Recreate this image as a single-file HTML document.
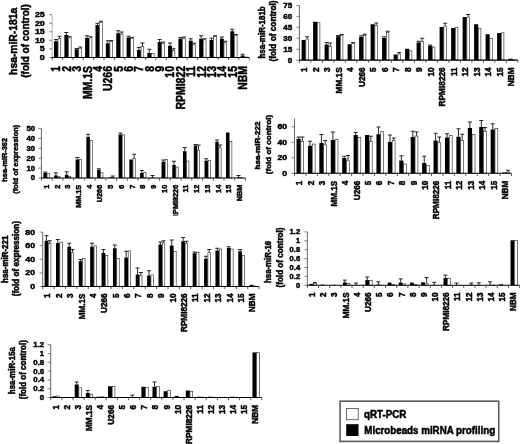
<!DOCTYPE html>
<html><head><meta charset="utf-8"><title>Figure</title>
<style>
html,body{margin:0;padding:0;background:#fff;}
body{width:520px;height:444px;overflow:hidden;}
svg{display:block;filter:blur(0.4px);}
svg text{stroke:#000;stroke-width:0.5px;stroke-linejoin:round;}
</style></head><body>
<svg width="520" height="444" viewBox="0 0 520 444" font-family="'Liberation Sans', Arial, sans-serif" font-weight="bold" fill="#000">
<rect x="0" y="0" width="520" height="444" fill="#fff"/>
<g id="c1">
<line x1="52.2" y1="14.6" x2="52.2" y2="57.45" stroke="#aaa" stroke-width="0.9"/>
<line x1="49.2" y1="57.45" x2="52.2" y2="57.45" stroke="#666" stroke-width="0.8"/>
<text transform="translate(44.7 59.88) scale(1.1 1)" font-size="8" text-anchor="end">0</text>
<line x1="49.2" y1="48.88" x2="52.2" y2="48.88" stroke="#666" stroke-width="0.8"/>
<text transform="translate(44.7 51.31) scale(1.1 1)" font-size="8" text-anchor="end">5</text>
<line x1="49.2" y1="40.31" x2="52.2" y2="40.31" stroke="#666" stroke-width="0.8"/>
<text transform="translate(44.7 42.74) scale(1.1 1)" font-size="8" text-anchor="end">10</text>
<line x1="49.2" y1="31.74" x2="52.2" y2="31.74" stroke="#666" stroke-width="0.8"/>
<text transform="translate(44.7 34.17) scale(1.1 1)" font-size="8" text-anchor="end">15</text>
<line x1="49.2" y1="23.17" x2="52.2" y2="23.17" stroke="#666" stroke-width="0.8"/>
<text transform="translate(44.7 25.6) scale(1.1 1)" font-size="8" text-anchor="end">20</text>
<line x1="49.2" y1="14.6" x2="52.2" y2="14.6" stroke="#666" stroke-width="0.8"/>
<text transform="translate(44.7 17.03) scale(1.1 1)" font-size="8" text-anchor="end">25</text>
<path d="M55.95 41.25 V39.5 M53.95 39.5 H57.95" stroke="#111" stroke-width="0.9" fill="none"/>
<path d="M59.5 38 V36.25 M57.5 36.25 H61.5" stroke="#111" stroke-width="0.9" fill="none"/>
<rect x="54" y="41.25" width="3.9" height="16.2" fill="#000"/>
<rect x="58.05" y="38.3" width="2.75" height="19.15" fill="#fff" stroke="#222" stroke-width="0.6"/>
<path d="M66.32 35 V32.5 M64.32 32.5 H68.32" stroke="#111" stroke-width="0.9" fill="none"/>
<path d="M69.87 37.5 V36.75 M67.87 36.75 H71.87" stroke="#111" stroke-width="0.9" fill="none"/>
<rect x="64.37" y="35" width="3.9" height="22.45" fill="#000"/>
<rect x="68.42" y="37.8" width="2.75" height="19.65" fill="#fff" stroke="#222" stroke-width="0.6"/>
<path d="M76.69 49.25 V48.5 M74.69 48.5 H78.69" stroke="#111" stroke-width="0.9" fill="none"/>
<path d="M80.24 48 V47 M78.24 47 H82.24" stroke="#111" stroke-width="0.9" fill="none"/>
<rect x="74.74" y="49.25" width="3.9" height="8.2" fill="#000"/>
<rect x="78.79" y="48.3" width="2.75" height="9.15" fill="#fff" stroke="#222" stroke-width="0.6"/>
<path d="M87.06 38 V35.75 M85.06 35.75 H89.06" stroke="#111" stroke-width="0.9" fill="none"/>
<path d="M90.61 37.5 V36.75 M88.61 36.75 H92.61" stroke="#111" stroke-width="0.9" fill="none"/>
<rect x="85.11" y="38" width="3.9" height="19.45" fill="#000"/>
<rect x="89.16" y="37.8" width="2.75" height="19.65" fill="#fff" stroke="#222" stroke-width="0.6"/>
<path d="M97.43 25 V23.25 M95.43 23.25 H99.43" stroke="#111" stroke-width="0.9" fill="none"/>
<path d="M100.98 22 V21.25 M98.98 21.25 H102.98" stroke="#111" stroke-width="0.9" fill="none"/>
<rect x="95.48" y="25" width="3.9" height="32.45" fill="#000"/>
<rect x="99.53" y="22.3" width="2.75" height="35.15" fill="#fff" stroke="#222" stroke-width="0.6"/>
<path d="M107.8 43.25 V40.75 M105.8 40.75 H109.8" stroke="#111" stroke-width="0.9" fill="none"/>
<path d="M111.35 41.25 V40.5 M109.35 40.5 H113.35" stroke="#111" stroke-width="0.9" fill="none"/>
<rect x="105.85" y="43.25" width="3.9" height="14.2" fill="#000"/>
<rect x="109.9" y="41.55" width="2.75" height="15.9" fill="#fff" stroke="#222" stroke-width="0.6"/>
<path d="M118.17 33.25 V30.75 M116.17 30.75 H120.17" stroke="#111" stroke-width="0.9" fill="none"/>
<path d="M121.72 33.75 V32 M119.72 32 H123.72" stroke="#111" stroke-width="0.9" fill="none"/>
<rect x="116.22" y="33.25" width="3.9" height="24.2" fill="#000"/>
<rect x="120.27" y="34.05" width="2.75" height="23.4" fill="#fff" stroke="#222" stroke-width="0.6"/>
<path d="M128.54 37.5 V36.2 M126.54 36.2 H130.54" stroke="#111" stroke-width="0.9" fill="none"/>
<path d="M132.09 38 V37.4 M130.09 37.4 H134.09" stroke="#111" stroke-width="0.9" fill="none"/>
<rect x="126.59" y="37.5" width="3.9" height="19.95" fill="#000"/>
<rect x="130.64" y="38.3" width="2.75" height="19.15" fill="#fff" stroke="#222" stroke-width="0.6"/>
<path d="M138.91 50 V47.5 M136.91 47.5 H140.91" stroke="#111" stroke-width="0.9" fill="none"/>
<path d="M142.46 46.25 V43 M140.46 43 H144.46" stroke="#111" stroke-width="0.9" fill="none"/>
<rect x="136.96" y="50" width="3.9" height="7.45" fill="#000"/>
<rect x="141.01" y="46.55" width="2.75" height="10.9" fill="#fff" stroke="#222" stroke-width="0.6"/>
<path d="M149.28 53 V49.25 M147.28 49.25 H151.28" stroke="#111" stroke-width="0.9" fill="none"/>
<rect x="147.33" y="53" width="3.9" height="4.45" fill="#000"/>
<rect x="151.38" y="53.3" width="2.75" height="4.15" fill="#fff" stroke="#222" stroke-width="0.6"/>
<path d="M159.65 42 V39.5 M157.65 39.5 H161.65" stroke="#111" stroke-width="0.9" fill="none"/>
<path d="M163.2 43.25 V42 M161.2 42 H165.2" stroke="#111" stroke-width="0.9" fill="none"/>
<rect x="157.7" y="42" width="3.9" height="15.45" fill="#000"/>
<rect x="161.75" y="43.55" width="2.75" height="13.9" fill="#fff" stroke="#222" stroke-width="0.6"/>
<path d="M170.02 45.75 V43 M168.02 43 H172.02" stroke="#111" stroke-width="0.9" fill="none"/>
<path d="M173.57 50 V48.75 M171.57 48.75 H175.57" stroke="#111" stroke-width="0.9" fill="none"/>
<rect x="168.07" y="45.75" width="3.9" height="11.7" fill="#000"/>
<rect x="172.12" y="50.3" width="2.75" height="7.15" fill="#fff" stroke="#222" stroke-width="0.6"/>
<path d="M180.39 38.75 V37.5 M178.39 37.5 H182.39" stroke="#111" stroke-width="0.9" fill="none"/>
<path d="M183.94 38 V37 M181.94 37 H185.94" stroke="#111" stroke-width="0.9" fill="none"/>
<rect x="178.44" y="38.75" width="3.9" height="18.7" fill="#000"/>
<rect x="182.49" y="38.3" width="2.75" height="19.15" fill="#fff" stroke="#222" stroke-width="0.6"/>
<path d="M190.76 40.75 V38.75 M188.76 38.75 H192.76" stroke="#111" stroke-width="0.9" fill="none"/>
<path d="M194.31 44.5 V43.25 M192.31 43.25 H196.31" stroke="#111" stroke-width="0.9" fill="none"/>
<rect x="188.81" y="40.75" width="3.9" height="16.7" fill="#000"/>
<rect x="192.86" y="44.8" width="2.75" height="12.65" fill="#fff" stroke="#222" stroke-width="0.6"/>
<path d="M201.13 38.75 V35.75 M199.13 35.75 H203.13" stroke="#111" stroke-width="0.9" fill="none"/>
<path d="M204.68 39.5 V38.75 M202.68 38.75 H206.68" stroke="#111" stroke-width="0.9" fill="none"/>
<rect x="199.18" y="38.75" width="3.9" height="18.7" fill="#000"/>
<rect x="203.23" y="39.8" width="2.75" height="17.65" fill="#fff" stroke="#222" stroke-width="0.6"/>
<path d="M211.5 40 V38.25 M209.5 38.25 H213.5" stroke="#111" stroke-width="0.9" fill="none"/>
<path d="M215.05 36.25 V35.75 M213.05 35.75 H217.05" stroke="#111" stroke-width="0.9" fill="none"/>
<rect x="209.55" y="40" width="3.9" height="17.45" fill="#000"/>
<rect x="213.6" y="36.55" width="2.75" height="20.9" fill="#fff" stroke="#222" stroke-width="0.6"/>
<path d="M221.87 38.75 V37 M219.87 37 H223.87" stroke="#111" stroke-width="0.9" fill="none"/>
<path d="M225.42 42.5 V41.25 M223.42 41.25 H227.42" stroke="#111" stroke-width="0.9" fill="none"/>
<rect x="219.92" y="38.75" width="3.9" height="18.7" fill="#000"/>
<rect x="223.97" y="42.8" width="2.75" height="14.65" fill="#fff" stroke="#222" stroke-width="0.6"/>
<path d="M232.24 31.25 V29.25 M230.24 29.25 H234.24" stroke="#111" stroke-width="0.9" fill="none"/>
<path d="M235.79 35 V34.5 M233.79 34.5 H237.79" stroke="#111" stroke-width="0.9" fill="none"/>
<rect x="230.29" y="31.25" width="3.9" height="26.2" fill="#000"/>
<rect x="234.34" y="35.3" width="2.75" height="22.15" fill="#fff" stroke="#222" stroke-width="0.6"/>
<path d="M242.61 55.5 V54.25 M240.61 54.25 H244.61" stroke="#111" stroke-width="0.9" fill="none"/>
<rect x="240.66" y="55.5" width="3.9" height="1.95" fill="#000"/>
<rect x="244.71" y="57.05" width="2.75" height="0.4" fill="#fff" stroke="#222" stroke-width="0.6"/>
<line x1="51.8" y1="57.45" x2="249.23" y2="57.45" stroke="#000" stroke-width="1.1"/>
<line x1="52.2" y1="57.45" x2="52.2" y2="60.15" stroke="#333" stroke-width="0.8"/>
<line x1="62.57" y1="57.45" x2="62.57" y2="60.15" stroke="#333" stroke-width="0.8"/>
<line x1="72.94" y1="57.45" x2="72.94" y2="60.15" stroke="#333" stroke-width="0.8"/>
<line x1="83.31" y1="57.45" x2="83.31" y2="60.15" stroke="#333" stroke-width="0.8"/>
<line x1="93.68" y1="57.45" x2="93.68" y2="60.15" stroke="#333" stroke-width="0.8"/>
<line x1="104.05" y1="57.45" x2="104.05" y2="60.15" stroke="#333" stroke-width="0.8"/>
<line x1="114.42" y1="57.45" x2="114.42" y2="60.15" stroke="#333" stroke-width="0.8"/>
<line x1="124.79" y1="57.45" x2="124.79" y2="60.15" stroke="#333" stroke-width="0.8"/>
<line x1="135.16" y1="57.45" x2="135.16" y2="60.15" stroke="#333" stroke-width="0.8"/>
<line x1="145.53" y1="57.45" x2="145.53" y2="60.15" stroke="#333" stroke-width="0.8"/>
<line x1="155.9" y1="57.45" x2="155.9" y2="60.15" stroke="#333" stroke-width="0.8"/>
<line x1="166.27" y1="57.45" x2="166.27" y2="60.15" stroke="#333" stroke-width="0.8"/>
<line x1="176.64" y1="57.45" x2="176.64" y2="60.15" stroke="#333" stroke-width="0.8"/>
<line x1="187.01" y1="57.45" x2="187.01" y2="60.15" stroke="#333" stroke-width="0.8"/>
<line x1="197.38" y1="57.45" x2="197.38" y2="60.15" stroke="#333" stroke-width="0.8"/>
<line x1="207.75" y1="57.45" x2="207.75" y2="60.15" stroke="#333" stroke-width="0.8"/>
<line x1="218.12" y1="57.45" x2="218.12" y2="60.15" stroke="#333" stroke-width="0.8"/>
<line x1="228.49" y1="57.45" x2="228.49" y2="60.15" stroke="#333" stroke-width="0.8"/>
<line x1="238.86" y1="57.45" x2="238.86" y2="60.15" stroke="#333" stroke-width="0.8"/>
<line x1="249.23" y1="57.45" x2="249.23" y2="60.15" stroke="#333" stroke-width="0.8"/>
<text transform="translate(60.42 66) rotate(-90) scale(0.83 1)" font-size="12.6" text-anchor="end">1</text>
<text transform="translate(70.79 66) rotate(-90) scale(0.83 1)" font-size="12.6" text-anchor="end">2</text>
<text transform="translate(81.16 66) rotate(-90) scale(0.83 1)" font-size="12.6" text-anchor="end">3</text>
<text transform="translate(91.53 66) rotate(-90) scale(0.83 1)" font-size="12.6" text-anchor="end">MM.1S</text>
<text transform="translate(101.9 66) rotate(-90) scale(0.83 1)" font-size="12.6" text-anchor="end">4</text>
<text transform="translate(112.27 66) rotate(-90) scale(0.83 1)" font-size="12.6" text-anchor="end">U266</text>
<text transform="translate(122.64 66) rotate(-90) scale(0.83 1)" font-size="12.6" text-anchor="end">5</text>
<text transform="translate(133.01 66) rotate(-90) scale(0.83 1)" font-size="12.6" text-anchor="end">6</text>
<text transform="translate(143.38 66) rotate(-90) scale(0.83 1)" font-size="12.6" text-anchor="end">7</text>
<text transform="translate(153.75 66) rotate(-90) scale(0.83 1)" font-size="12.6" text-anchor="end">8</text>
<text transform="translate(164.12 66) rotate(-90) scale(0.83 1)" font-size="12.6" text-anchor="end">9</text>
<text transform="translate(174.49 66) rotate(-90) scale(0.83 1)" font-size="12.6" text-anchor="end">10</text>
<text transform="translate(184.86 66) rotate(-90) scale(0.83 1)" font-size="12.6" text-anchor="end">RPMI822</text>
<text transform="translate(195.23 66) rotate(-90) scale(0.83 1)" font-size="12.6" text-anchor="end">11</text>
<text transform="translate(205.6 66) rotate(-90) scale(0.83 1)" font-size="12.6" text-anchor="end">12</text>
<text transform="translate(215.97 66) rotate(-90) scale(0.83 1)" font-size="12.6" text-anchor="end">13</text>
<text transform="translate(226.34 66) rotate(-90) scale(0.83 1)" font-size="12.6" text-anchor="end">14</text>
<text transform="translate(236.71 66) rotate(-90) scale(0.83 1)" font-size="12.6" text-anchor="end">15</text>
<text transform="translate(247.08 66) rotate(-90) scale(0.83 1)" font-size="12.6" text-anchor="end">NBM</text>
<text transform="translate(16.9 41.35) rotate(-90)" font-size="11.5" text-anchor="middle" textLength="67.1" lengthAdjust="spacingAndGlyphs">hsa-miR-181a</text>
<text transform="translate(28.6 40.95) rotate(-90)" font-size="11.5" text-anchor="middle" textLength="73.5" lengthAdjust="spacingAndGlyphs">(fold of control)</text>
</g>
<g id="c2">
<line x1="299.4" y1="5.4" x2="299.4" y2="60.15" stroke="#555" stroke-width="0.9"/>
<line x1="296.4" y1="60.15" x2="299.4" y2="60.15" stroke="#666" stroke-width="0.8"/>
<text transform="translate(292.2 62.58) scale(1 1)" font-size="8" text-anchor="end">0</text>
<line x1="296.4" y1="49.21" x2="299.4" y2="49.21" stroke="#666" stroke-width="0.8"/>
<text transform="translate(292.2 51.64) scale(1 1)" font-size="8" text-anchor="end">15</text>
<line x1="296.4" y1="38.27" x2="299.4" y2="38.27" stroke="#666" stroke-width="0.8"/>
<text transform="translate(292.2 40.7) scale(1 1)" font-size="8" text-anchor="end">30</text>
<line x1="296.4" y1="27.33" x2="299.4" y2="27.33" stroke="#666" stroke-width="0.8"/>
<text transform="translate(292.2 29.76) scale(1 1)" font-size="8" text-anchor="end">45</text>
<line x1="296.4" y1="16.39" x2="299.4" y2="16.39" stroke="#666" stroke-width="0.8"/>
<text transform="translate(292.2 18.82) scale(1 1)" font-size="8" text-anchor="end">60</text>
<line x1="296.4" y1="5.45" x2="299.4" y2="5.45" stroke="#666" stroke-width="0.8"/>
<text transform="translate(292.2 7.88) scale(1 1)" font-size="8" text-anchor="end">75</text>
<path d="M307.2 38.75 V36.75 M305.2 36.75 H309.2" stroke="#111" stroke-width="0.9" fill="none"/>
<rect x="301.6" y="40" width="4.1" height="20.15" fill="#000"/>
<rect x="305.85" y="39.05" width="2.55" height="21.1" fill="#fff" stroke="#222" stroke-width="0.6"/>
<rect x="313.1" y="21.75" width="4.1" height="38.4" fill="#000"/>
<rect x="317.35" y="22.8" width="2.55" height="37.35" fill="#fff" stroke="#222" stroke-width="0.6"/>
<path d="M326.65 44.5 V42.5 M324.65 42.5 H328.65" stroke="#111" stroke-width="0.9" fill="none"/>
<path d="M330.2 46.25 V43 M328.2 43 H332.2" stroke="#111" stroke-width="0.9" fill="none"/>
<rect x="324.6" y="44.5" width="4.1" height="15.65" fill="#000"/>
<rect x="328.85" y="46.55" width="2.55" height="13.6" fill="#fff" stroke="#222" stroke-width="0.6"/>
<path d="M338.15 36.25 V35.5 M336.15 35.5 H340.15" stroke="#111" stroke-width="0.9" fill="none"/>
<path d="M341.7 35 V34.5 M339.7 34.5 H343.7" stroke="#111" stroke-width="0.9" fill="none"/>
<rect x="336.1" y="36.25" width="4.1" height="23.9" fill="#000"/>
<rect x="340.35" y="35.3" width="2.55" height="24.85" fill="#fff" stroke="#222" stroke-width="0.6"/>
<path d="M353.2 43.25 V42.5 M351.2 42.5 H355.2" stroke="#111" stroke-width="0.9" fill="none"/>
<rect x="347.6" y="44.25" width="4.1" height="15.9" fill="#000"/>
<rect x="351.85" y="43.55" width="2.55" height="16.6" fill="#fff" stroke="#222" stroke-width="0.6"/>
<path d="M361.15 37 V35.75 M359.15 35.75 H363.15" stroke="#111" stroke-width="0.9" fill="none"/>
<path d="M364.7 35 V34.25 M362.7 34.25 H366.7" stroke="#111" stroke-width="0.9" fill="none"/>
<rect x="359.1" y="37" width="4.1" height="23.15" fill="#000"/>
<rect x="363.35" y="35.3" width="2.55" height="24.85" fill="#fff" stroke="#222" stroke-width="0.6"/>
<path d="M376.2 25 V23 M374.2 23 H378.2" stroke="#111" stroke-width="0.9" fill="none"/>
<rect x="370.6" y="24.25" width="4.1" height="35.9" fill="#000"/>
<rect x="374.85" y="25.3" width="2.55" height="34.85" fill="#fff" stroke="#222" stroke-width="0.6"/>
<path d="M384.15 38 V36.75 M382.15 36.75 H386.15" stroke="#111" stroke-width="0.9" fill="none"/>
<path d="M387.7 32 V31.25 M385.7 31.25 H389.7" stroke="#111" stroke-width="0.9" fill="none"/>
<rect x="382.1" y="38" width="4.1" height="22.15" fill="#000"/>
<rect x="386.35" y="32.3" width="2.55" height="27.85" fill="#fff" stroke="#222" stroke-width="0.6"/>
<path d="M399.2 53.75 V52.5 M397.2 52.5 H401.2" stroke="#111" stroke-width="0.9" fill="none"/>
<rect x="393.6" y="54.5" width="4.1" height="5.65" fill="#000"/>
<rect x="397.85" y="54.05" width="2.55" height="6.1" fill="#fff" stroke="#222" stroke-width="0.6"/>
<rect x="405.1" y="48.75" width="4.1" height="11.4" fill="#000"/>
<rect x="409.35" y="50.8" width="2.55" height="9.35" fill="#fff" stroke="#222" stroke-width="0.6"/>
<path d="M418.65 42.5 V41.25 M416.65 41.25 H420.65" stroke="#111" stroke-width="0.9" fill="none"/>
<path d="M422.2 41.25 V38.25 M420.2 38.25 H424.2" stroke="#111" stroke-width="0.9" fill="none"/>
<rect x="416.6" y="42.5" width="4.1" height="17.65" fill="#000"/>
<rect x="420.85" y="41.55" width="2.55" height="18.6" fill="#fff" stroke="#222" stroke-width="0.6"/>
<path d="M430.15 45.75 V45 M428.15 45 H432.15" stroke="#111" stroke-width="0.9" fill="none"/>
<rect x="428.1" y="45.75" width="4.1" height="14.4" fill="#000"/>
<rect x="432.35" y="47.05" width="2.55" height="13.1" fill="#fff" stroke="#222" stroke-width="0.6"/>
<path d="M445.2 25.75 V23.25 M443.2 23.25 H447.2" stroke="#111" stroke-width="0.9" fill="none"/>
<rect x="439.6" y="27" width="4.1" height="33.15" fill="#000"/>
<rect x="443.85" y="26.05" width="2.55" height="34.1" fill="#fff" stroke="#222" stroke-width="0.6"/>
<rect x="451.1" y="28" width="4.1" height="32.15" fill="#000"/>
<rect x="455.35" y="27.3" width="2.55" height="32.85" fill="#fff" stroke="#222" stroke-width="0.6"/>
<path d="M468.2 16.75 V14.5 M466.2 14.5 H470.2" stroke="#111" stroke-width="0.9" fill="none"/>
<rect x="462.6" y="17" width="4.1" height="43.15" fill="#000"/>
<rect x="466.85" y="17.05" width="2.55" height="43.1" fill="#fff" stroke="#222" stroke-width="0.6"/>
<rect x="474.1" y="24.25" width="4.1" height="35.9" fill="#000"/>
<rect x="478.35" y="28.55" width="2.55" height="31.6" fill="#fff" stroke="#222" stroke-width="0.6"/>
<rect x="485.6" y="34.25" width="4.1" height="25.9" fill="#000"/>
<rect x="489.85" y="38.55" width="2.55" height="21.6" fill="#fff" stroke="#222" stroke-width="0.6"/>
<rect x="497.1" y="33" width="4.1" height="27.15" fill="#000"/>
<rect x="501.35" y="32.8" width="2.55" height="27.35" fill="#fff" stroke="#222" stroke-width="0.6"/>
<rect x="508.6" y="58.7" width="4.1" height="1.45" fill="#000"/>
<rect x="512.85" y="60" width="2.55" height="0.15" fill="#fff" stroke="#222" stroke-width="0.6"/>
<line x1="299" y1="60.15" x2="517.9" y2="60.15" stroke="#000" stroke-width="1.1"/>
<line x1="299.4" y1="60.15" x2="299.4" y2="62.85" stroke="#333" stroke-width="0.8"/>
<line x1="310.9" y1="60.15" x2="310.9" y2="62.85" stroke="#333" stroke-width="0.8"/>
<line x1="322.4" y1="60.15" x2="322.4" y2="62.85" stroke="#333" stroke-width="0.8"/>
<line x1="333.9" y1="60.15" x2="333.9" y2="62.85" stroke="#333" stroke-width="0.8"/>
<line x1="345.4" y1="60.15" x2="345.4" y2="62.85" stroke="#333" stroke-width="0.8"/>
<line x1="356.9" y1="60.15" x2="356.9" y2="62.85" stroke="#333" stroke-width="0.8"/>
<line x1="368.4" y1="60.15" x2="368.4" y2="62.85" stroke="#333" stroke-width="0.8"/>
<line x1="379.9" y1="60.15" x2="379.9" y2="62.85" stroke="#333" stroke-width="0.8"/>
<line x1="391.4" y1="60.15" x2="391.4" y2="62.85" stroke="#333" stroke-width="0.8"/>
<line x1="402.9" y1="60.15" x2="402.9" y2="62.85" stroke="#333" stroke-width="0.8"/>
<line x1="414.4" y1="60.15" x2="414.4" y2="62.85" stroke="#333" stroke-width="0.8"/>
<line x1="425.9" y1="60.15" x2="425.9" y2="62.85" stroke="#333" stroke-width="0.8"/>
<line x1="437.4" y1="60.15" x2="437.4" y2="62.85" stroke="#333" stroke-width="0.8"/>
<line x1="448.9" y1="60.15" x2="448.9" y2="62.85" stroke="#333" stroke-width="0.8"/>
<line x1="460.4" y1="60.15" x2="460.4" y2="62.85" stroke="#333" stroke-width="0.8"/>
<line x1="471.9" y1="60.15" x2="471.9" y2="62.85" stroke="#333" stroke-width="0.8"/>
<line x1="483.4" y1="60.15" x2="483.4" y2="62.85" stroke="#333" stroke-width="0.8"/>
<line x1="494.9" y1="60.15" x2="494.9" y2="62.85" stroke="#333" stroke-width="0.8"/>
<line x1="506.4" y1="60.15" x2="506.4" y2="62.85" stroke="#333" stroke-width="0.8"/>
<line x1="517.9" y1="60.15" x2="517.9" y2="62.85" stroke="#333" stroke-width="0.8"/>
<text transform="translate(307.4 67.3) rotate(-90) scale(0.89 1)" font-size="9.3" text-anchor="end">1</text>
<text transform="translate(318.9 67.3) rotate(-90) scale(0.89 1)" font-size="9.3" text-anchor="end">2</text>
<text transform="translate(330.4 67.3) rotate(-90) scale(0.89 1)" font-size="9.3" text-anchor="end">3</text>
<text transform="translate(341.9 67.3) rotate(-90) scale(0.89 1)" font-size="9.3" text-anchor="end">MM.1S</text>
<text transform="translate(353.4 67.3) rotate(-90) scale(0.89 1)" font-size="9.3" text-anchor="end">4</text>
<text transform="translate(364.9 67.3) rotate(-90) scale(0.89 1)" font-size="9.3" text-anchor="end">U266</text>
<text transform="translate(376.4 67.3) rotate(-90) scale(0.89 1)" font-size="9.3" text-anchor="end">5</text>
<text transform="translate(387.9 67.3) rotate(-90) scale(0.89 1)" font-size="9.3" text-anchor="end">6</text>
<text transform="translate(399.4 67.3) rotate(-90) scale(0.89 1)" font-size="9.3" text-anchor="end">7</text>
<text transform="translate(410.9 67.3) rotate(-90) scale(0.89 1)" font-size="9.3" text-anchor="end">8</text>
<text transform="translate(422.4 67.3) rotate(-90) scale(0.89 1)" font-size="9.3" text-anchor="end">9</text>
<text transform="translate(433.9 67.3) rotate(-90) scale(0.89 1)" font-size="9.3" text-anchor="end">10</text>
<text transform="translate(445.4 67.3) rotate(-90) scale(0.89 1)" font-size="9.3" text-anchor="end">RPMI8226</text>
<text transform="translate(456.9 67.3) rotate(-90) scale(0.89 1)" font-size="9.3" text-anchor="end">11</text>
<text transform="translate(468.4 67.3) rotate(-90) scale(0.89 1)" font-size="9.3" text-anchor="end">12</text>
<text transform="translate(479.9 67.3) rotate(-90) scale(0.89 1)" font-size="9.3" text-anchor="end">13</text>
<text transform="translate(491.4 67.3) rotate(-90) scale(0.89 1)" font-size="9.3" text-anchor="end">14</text>
<text transform="translate(502.9 67.3) rotate(-90) scale(0.89 1)" font-size="9.3" text-anchor="end">15</text>
<text transform="translate(514.4 67.3) rotate(-90) scale(0.89 1)" font-size="9.3" text-anchor="end">NBM</text>
<text transform="translate(264.8 32.4) rotate(-90)" font-size="8.8" text-anchor="middle" textLength="52.2" lengthAdjust="spacingAndGlyphs">hsa-miR-181b</text>
<text transform="translate(276 31) rotate(-90)" font-size="8.8" text-anchor="middle" textLength="61" lengthAdjust="spacingAndGlyphs">(fold of control)</text>
</g>
<g id="c3">
<line x1="41.4" y1="128.6" x2="41.4" y2="178" stroke="#555" stroke-width="0.9"/>
<line x1="38.4" y1="178" x2="41.4" y2="178" stroke="#666" stroke-width="0.8"/>
<text transform="translate(35.1 180.43) scale(0.97 1)" font-size="8" text-anchor="end">0</text>
<line x1="38.4" y1="168.12" x2="41.4" y2="168.12" stroke="#666" stroke-width="0.8"/>
<text transform="translate(35.1 170.55) scale(0.97 1)" font-size="8" text-anchor="end">10</text>
<line x1="38.4" y1="158.24" x2="41.4" y2="158.24" stroke="#666" stroke-width="0.8"/>
<text transform="translate(35.1 160.67) scale(0.97 1)" font-size="8" text-anchor="end">20</text>
<line x1="38.4" y1="148.36" x2="41.4" y2="148.36" stroke="#666" stroke-width="0.8"/>
<text transform="translate(35.1 150.79) scale(0.97 1)" font-size="8" text-anchor="end">30</text>
<line x1="38.4" y1="138.48" x2="41.4" y2="138.48" stroke="#666" stroke-width="0.8"/>
<text transform="translate(35.1 140.91) scale(0.97 1)" font-size="8" text-anchor="end">40</text>
<line x1="38.4" y1="128.6" x2="41.4" y2="128.6" stroke="#666" stroke-width="0.8"/>
<text transform="translate(35.1 131.03) scale(0.97 1)" font-size="8" text-anchor="end">50</text>
<path d="M45.15 172.9 V172.1 M43.15 172.1 H47.15" stroke="#111" stroke-width="0.9" fill="none"/>
<rect x="43.4" y="172.9" width="3.5" height="5.1" fill="#000"/>
<rect x="47.05" y="173.5" width="2.25" height="4.5" fill="#fff" stroke="#222" stroke-width="0.6"/>
<path d="M55.89 175.4 V172.9 M53.89 172.9 H57.89" stroke="#111" stroke-width="0.9" fill="none"/>
<rect x="54.14" y="175.4" width="3.5" height="2.6" fill="#000"/>
<rect x="57.79" y="176.5" width="2.25" height="1.5" fill="#fff" stroke="#222" stroke-width="0.6"/>
<path d="M66.63 174.8 V171.8 M64.63 171.8 H68.63" stroke="#111" stroke-width="0.9" fill="none"/>
<rect x="64.88" y="174.8" width="3.5" height="3.2" fill="#000"/>
<rect x="68.53" y="176.5" width="2.25" height="1.5" fill="#fff" stroke="#222" stroke-width="0.6"/>
<path d="M77.37 159.5 V157.5 M75.37 157.5 H79.37" stroke="#111" stroke-width="0.9" fill="none"/>
<rect x="75.62" y="159.5" width="3.5" height="18.5" fill="#000"/>
<rect x="79.27" y="159.55" width="2.25" height="18.45" fill="#fff" stroke="#222" stroke-width="0.6"/>
<path d="M88.11 137 V134.25 M86.11 134.25 H90.11" stroke="#111" stroke-width="0.9" fill="none"/>
<rect x="86.36" y="137" width="3.5" height="41" fill="#000"/>
<rect x="90.01" y="140.3" width="2.25" height="37.7" fill="#fff" stroke="#222" stroke-width="0.6"/>
<path d="M98.85 169.8 V168.8 M96.85 168.8 H100.85" stroke="#111" stroke-width="0.9" fill="none"/>
<rect x="97.1" y="169.8" width="3.5" height="8.2" fill="#000"/>
<rect x="100.75" y="172.7" width="2.25" height="5.3" fill="#fff" stroke="#222" stroke-width="0.6"/>
<path d="M112.69 176.8 V176 M110.69 176 H114.69" stroke="#111" stroke-width="0.9" fill="none"/>
<rect x="107.84" y="177.5" width="3.5" height="0.5" fill="#000"/>
<rect x="111.49" y="177.1" width="2.25" height="0.9" fill="#fff" stroke="#222" stroke-width="0.6"/>
<path d="M120.33 134.5 V133 M118.33 133 H122.33" stroke="#111" stroke-width="0.9" fill="none"/>
<rect x="118.58" y="134.5" width="3.5" height="43.5" fill="#000"/>
<rect x="122.23" y="134.8" width="2.25" height="43.2" fill="#fff" stroke="#222" stroke-width="0.6"/>
<path d="M134.17 158 V154.25 M132.17 154.25 H136.17" stroke="#111" stroke-width="0.9" fill="none"/>
<rect x="129.32" y="159.5" width="3.5" height="18.5" fill="#000"/>
<rect x="132.97" y="158.3" width="2.25" height="19.7" fill="#fff" stroke="#222" stroke-width="0.6"/>
<path d="M141.81 173 V170.5 M139.81 170.5 H143.81" stroke="#111" stroke-width="0.9" fill="none"/>
<rect x="140.06" y="173" width="3.5" height="5" fill="#000"/>
<rect x="143.71" y="172.6" width="2.25" height="5.4" fill="#fff" stroke="#222" stroke-width="0.6"/>
<path d="M152.55 177.5 V175.5 M150.55 175.5 H154.55" stroke="#111" stroke-width="0.9" fill="none"/>
<rect x="150.8" y="177.5" width="3.5" height="0.5" fill="#000"/>
<rect x="154.45" y="178" width="2.25" height="0" fill="#fff" stroke="#222" stroke-width="0.6"/>
<path d="M163.29 161.75 V160 M161.29 160 H165.29" stroke="#111" stroke-width="0.9" fill="none"/>
<rect x="161.54" y="161.75" width="3.5" height="16.25" fill="#000"/>
<rect x="165.19" y="159.55" width="2.25" height="18.45" fill="#fff" stroke="#222" stroke-width="0.6"/>
<path d="M174.03 165 V161.25 M172.03 161.25 H176.03" stroke="#111" stroke-width="0.9" fill="none"/>
<rect x="172.28" y="165" width="3.5" height="13" fill="#000"/>
<rect x="175.93" y="167.05" width="2.25" height="10.95" fill="#fff" stroke="#222" stroke-width="0.6"/>
<path d="M184.77 151.25 V147.5 M182.77 147.5 H186.77" stroke="#111" stroke-width="0.9" fill="none"/>
<rect x="183.02" y="151.25" width="3.5" height="26.75" fill="#000"/>
<rect x="186.67" y="161.05" width="2.25" height="16.95" fill="#fff" stroke="#222" stroke-width="0.6"/>
<path d="M195.51 145.5 V144.5 M193.51 144.5 H197.51" stroke="#111" stroke-width="0.9" fill="none"/>
<path d="M198.61 150 V145 M196.61 145 H200.61" stroke="#111" stroke-width="0.9" fill="none"/>
<rect x="193.76" y="145.5" width="3.5" height="32.5" fill="#000"/>
<rect x="197.41" y="150.3" width="2.25" height="27.7" fill="#fff" stroke="#222" stroke-width="0.6"/>
<path d="M206.25 160.75 V158.75 M204.25 158.75 H208.25" stroke="#111" stroke-width="0.9" fill="none"/>
<rect x="204.5" y="160.75" width="3.5" height="17.25" fill="#000"/>
<rect x="208.15" y="160.3" width="2.25" height="17.7" fill="#fff" stroke="#222" stroke-width="0.6"/>
<path d="M216.99 142 V140 M214.99 140 H218.99" stroke="#111" stroke-width="0.9" fill="none"/>
<path d="M220.09 147.5 V145 M218.09 145 H222.09" stroke="#111" stroke-width="0.9" fill="none"/>
<rect x="215.24" y="142" width="3.5" height="36" fill="#000"/>
<rect x="218.89" y="147.8" width="2.25" height="30.2" fill="#fff" stroke="#222" stroke-width="0.6"/>
<rect x="225.98" y="132.5" width="3.5" height="45.5" fill="#000"/>
<rect x="229.63" y="141.55" width="2.25" height="36.45" fill="#fff" stroke="#222" stroke-width="0.6"/>
<path d="M238.47 177.2 V175.5 M236.47 175.5 H240.47" stroke="#111" stroke-width="0.9" fill="none"/>
<rect x="236.72" y="177.2" width="3.5" height="0.8" fill="#000"/>
<rect x="240.37" y="177.8" width="2.25" height="0.2" fill="#fff" stroke="#222" stroke-width="0.6"/>
<line x1="41" y1="178" x2="245.46" y2="178" stroke="#000" stroke-width="1.1"/>
<line x1="41.4" y1="178" x2="41.4" y2="180.7" stroke="#333" stroke-width="0.8"/>
<line x1="52.14" y1="178" x2="52.14" y2="180.7" stroke="#333" stroke-width="0.8"/>
<line x1="62.88" y1="178" x2="62.88" y2="180.7" stroke="#333" stroke-width="0.8"/>
<line x1="73.62" y1="178" x2="73.62" y2="180.7" stroke="#333" stroke-width="0.8"/>
<line x1="84.36" y1="178" x2="84.36" y2="180.7" stroke="#333" stroke-width="0.8"/>
<line x1="95.1" y1="178" x2="95.1" y2="180.7" stroke="#333" stroke-width="0.8"/>
<line x1="105.84" y1="178" x2="105.84" y2="180.7" stroke="#333" stroke-width="0.8"/>
<line x1="116.58" y1="178" x2="116.58" y2="180.7" stroke="#333" stroke-width="0.8"/>
<line x1="127.32" y1="178" x2="127.32" y2="180.7" stroke="#333" stroke-width="0.8"/>
<line x1="138.06" y1="178" x2="138.06" y2="180.7" stroke="#333" stroke-width="0.8"/>
<line x1="148.8" y1="178" x2="148.8" y2="180.7" stroke="#333" stroke-width="0.8"/>
<line x1="159.54" y1="178" x2="159.54" y2="180.7" stroke="#333" stroke-width="0.8"/>
<line x1="170.28" y1="178" x2="170.28" y2="180.7" stroke="#333" stroke-width="0.8"/>
<line x1="181.02" y1="178" x2="181.02" y2="180.7" stroke="#333" stroke-width="0.8"/>
<line x1="191.76" y1="178" x2="191.76" y2="180.7" stroke="#333" stroke-width="0.8"/>
<line x1="202.5" y1="178" x2="202.5" y2="180.7" stroke="#333" stroke-width="0.8"/>
<line x1="213.24" y1="178" x2="213.24" y2="180.7" stroke="#333" stroke-width="0.8"/>
<line x1="223.98" y1="178" x2="223.98" y2="180.7" stroke="#333" stroke-width="0.8"/>
<line x1="234.72" y1="178" x2="234.72" y2="180.7" stroke="#333" stroke-width="0.8"/>
<line x1="245.46" y1="178" x2="245.46" y2="180.7" stroke="#333" stroke-width="0.8"/>
<clipPath id="clip_c3"><rect x="0" y="178" width="520" height="37.6"/></clipPath>
<g clip-path="url(#clip_c3)">
<text transform="translate(48.76 184.8) rotate(-90) scale(0.94 1)" font-size="7.74" text-anchor="end">1</text>
<text transform="translate(59.5 184.8) rotate(-90) scale(0.94 1)" font-size="7.74" text-anchor="end">2</text>
<text transform="translate(70.24 184.8) rotate(-90) scale(0.94 1)" font-size="7.74" text-anchor="end">3</text>
<text transform="translate(80.98 184.8) rotate(-90) scale(0.94 1)" font-size="7.74" text-anchor="end">MM.1S</text>
<text transform="translate(91.72 184.8) rotate(-90) scale(0.94 1)" font-size="7.74" text-anchor="end">4</text>
<text transform="translate(102.46 184.8) rotate(-90) scale(0.94 1)" font-size="7.74" text-anchor="end">U266</text>
<text transform="translate(113.2 184.8) rotate(-90) scale(0.94 1)" font-size="7.74" text-anchor="end">5</text>
<text transform="translate(123.94 184.8) rotate(-90) scale(0.94 1)" font-size="7.74" text-anchor="end">6</text>
<text transform="translate(134.68 184.8) rotate(-90) scale(0.94 1)" font-size="7.74" text-anchor="end">7</text>
<text transform="translate(145.42 184.8) rotate(-90) scale(0.94 1)" font-size="7.74" text-anchor="end">8</text>
<text transform="translate(156.16 184.8) rotate(-90) scale(0.94 1)" font-size="7.74" text-anchor="end">9</text>
<text transform="translate(166.9 184.8) rotate(-90) scale(0.94 1)" font-size="7.74" text-anchor="end">10</text>
<text transform="translate(177.64 184.8) rotate(-90) scale(0.94 1)" font-size="7.74" text-anchor="end">RPMI8226</text>
<text transform="translate(188.38 184.8) rotate(-90) scale(0.94 1)" font-size="7.74" text-anchor="end">11</text>
<text transform="translate(199.12 184.8) rotate(-90) scale(0.94 1)" font-size="7.74" text-anchor="end">12</text>
<text transform="translate(209.86 184.8) rotate(-90) scale(0.94 1)" font-size="7.74" text-anchor="end">13</text>
<text transform="translate(220.6 184.8) rotate(-90) scale(0.94 1)" font-size="7.74" text-anchor="end">14</text>
<text transform="translate(231.34 184.8) rotate(-90) scale(0.94 1)" font-size="7.74" text-anchor="end">15</text>
<text transform="translate(242.08 184.8) rotate(-90) scale(0.94 1)" font-size="7.74" text-anchor="end">NBM</text>
</g>
<text transform="translate(7.4 159.85) rotate(-90)" font-size="7.8" text-anchor="middle" textLength="43.7" lengthAdjust="spacingAndGlyphs">hsa-miR-362</text>
<text transform="translate(18.1 159.25) rotate(-90)" font-size="7.8" text-anchor="middle" textLength="68.9" lengthAdjust="spacingAndGlyphs">(fold of expression)</text>
</g>
<g id="c4">
<line x1="294.5" y1="118.5" x2="294.5" y2="173.3" stroke="#555" stroke-width="0.9"/>
<line x1="291.5" y1="173.3" x2="294.5" y2="173.3" stroke="#666" stroke-width="0.8"/>
<text transform="translate(287 175.73) scale(1.08 1)" font-size="8" text-anchor="end">0</text>
<line x1="291.5" y1="157.8" x2="294.5" y2="157.8" stroke="#666" stroke-width="0.8"/>
<text transform="translate(287 160.23) scale(1.08 1)" font-size="8" text-anchor="end">20</text>
<line x1="291.5" y1="142.3" x2="294.5" y2="142.3" stroke="#666" stroke-width="0.8"/>
<text transform="translate(287 144.73) scale(1.08 1)" font-size="8" text-anchor="end">40</text>
<line x1="291.5" y1="126.8" x2="294.5" y2="126.8" stroke="#666" stroke-width="0.8"/>
<text transform="translate(287 129.23) scale(1.08 1)" font-size="8" text-anchor="end">60</text>
<path d="M298.6 138.75 V137 M296.6 137 H300.6" stroke="#111" stroke-width="0.9" fill="none"/>
<path d="M302.35 141.25 V137 M300.35 137 H304.35" stroke="#111" stroke-width="0.9" fill="none"/>
<rect x="296.5" y="138.75" width="4.2" height="34.55" fill="#000"/>
<rect x="300.85" y="141.55" width="2.85" height="31.75" fill="#fff" stroke="#222" stroke-width="0.6"/>
<path d="M310.02 145.75 V141.25 M308.02 141.25 H312.02" stroke="#111" stroke-width="0.9" fill="none"/>
<rect x="307.92" y="145.75" width="4.2" height="27.55" fill="#000"/>
<rect x="312.27" y="144.05" width="2.85" height="29.25" fill="#fff" stroke="#222" stroke-width="0.6"/>
<path d="M321.44 143 V134.5 M319.44 134.5 H323.44" stroke="#111" stroke-width="0.9" fill="none"/>
<path d="M325.19 144.5 V140.5 M323.19 140.5 H327.19" stroke="#111" stroke-width="0.9" fill="none"/>
<rect x="319.34" y="143" width="4.2" height="30.3" fill="#000"/>
<rect x="323.69" y="144.8" width="2.85" height="28.5" fill="#fff" stroke="#222" stroke-width="0.6"/>
<path d="M332.86 140 V132 M330.86 132 H334.86" stroke="#111" stroke-width="0.9" fill="none"/>
<rect x="330.76" y="140" width="4.2" height="33.3" fill="#000"/>
<rect x="335.11" y="139.55" width="2.85" height="33.75" fill="#fff" stroke="#222" stroke-width="0.6"/>
<path d="M344.28 158 V156.25 M342.28 156.25 H346.28" stroke="#111" stroke-width="0.9" fill="none"/>
<path d="M348.03 160.5 V155.5 M346.03 155.5 H350.03" stroke="#111" stroke-width="0.9" fill="none"/>
<rect x="342.18" y="158" width="4.2" height="15.3" fill="#000"/>
<rect x="346.53" y="160.8" width="2.85" height="12.5" fill="#fff" stroke="#222" stroke-width="0.6"/>
<path d="M355.7 135 V132.5 M353.7 132.5 H357.7" stroke="#111" stroke-width="0.9" fill="none"/>
<rect x="353.6" y="135" width="4.2" height="38.3" fill="#000"/>
<rect x="357.95" y="137.3" width="2.85" height="36" fill="#fff" stroke="#222" stroke-width="0.6"/>
<path d="M370.87 141.25 V136.25 M368.87 136.25 H372.87" stroke="#111" stroke-width="0.9" fill="none"/>
<rect x="365.02" y="135" width="4.2" height="38.3" fill="#000"/>
<rect x="369.37" y="141.55" width="2.85" height="31.75" fill="#fff" stroke="#222" stroke-width="0.6"/>
<path d="M378.54 134.25 V127 M376.54 127 H380.54" stroke="#111" stroke-width="0.9" fill="none"/>
<rect x="376.44" y="134.25" width="4.2" height="39.05" fill="#000"/>
<rect x="380.79" y="131.55" width="2.85" height="41.75" fill="#fff" stroke="#222" stroke-width="0.6"/>
<path d="M389.96 142 V135 M387.96 135 H391.96" stroke="#111" stroke-width="0.9" fill="none"/>
<path d="M393.71 140 V138 M391.71 138 H395.71" stroke="#111" stroke-width="0.9" fill="none"/>
<rect x="387.86" y="142" width="4.2" height="31.3" fill="#000"/>
<rect x="392.21" y="140.3" width="2.85" height="33" fill="#fff" stroke="#222" stroke-width="0.6"/>
<path d="M401.38 160.5 V155.75 M399.38 155.75 H403.38" stroke="#111" stroke-width="0.9" fill="none"/>
<rect x="399.28" y="160.5" width="4.2" height="12.8" fill="#000"/>
<rect x="403.63" y="164.05" width="2.85" height="9.25" fill="#fff" stroke="#222" stroke-width="0.6"/>
<path d="M412.8 137 V131.25 M410.8 131.25 H414.8" stroke="#111" stroke-width="0.9" fill="none"/>
<path d="M416.55 135.75 V132 M414.55 132 H418.55" stroke="#111" stroke-width="0.9" fill="none"/>
<rect x="410.7" y="137" width="4.2" height="36.3" fill="#000"/>
<rect x="415.05" y="136.05" width="2.85" height="37.25" fill="#fff" stroke="#222" stroke-width="0.6"/>
<path d="M424.22 163 V156.25 M422.22 156.25 H426.22" stroke="#111" stroke-width="0.9" fill="none"/>
<rect x="422.12" y="163" width="4.2" height="10.3" fill="#000"/>
<rect x="426.47" y="165.3" width="2.85" height="8" fill="#fff" stroke="#222" stroke-width="0.6"/>
<path d="M435.64 140.5 V133.25 M433.64 133.25 H437.64" stroke="#111" stroke-width="0.9" fill="none"/>
<path d="M439.39 142.5 V137 M437.39 137 H441.39" stroke="#111" stroke-width="0.9" fill="none"/>
<rect x="433.54" y="140.5" width="4.2" height="32.8" fill="#000"/>
<rect x="437.89" y="142.8" width="2.85" height="30.5" fill="#fff" stroke="#222" stroke-width="0.6"/>
<path d="M447.06 137.5 V133.75 M445.06 133.75 H449.06" stroke="#111" stroke-width="0.9" fill="none"/>
<rect x="444.96" y="137.5" width="4.2" height="35.8" fill="#000"/>
<rect x="449.31" y="135.3" width="2.85" height="38" fill="#fff" stroke="#222" stroke-width="0.6"/>
<path d="M458.48 136.75 V128.75 M456.48 128.75 H460.48" stroke="#111" stroke-width="0.9" fill="none"/>
<path d="M462.23 140 V134.25 M460.23 134.25 H464.23" stroke="#111" stroke-width="0.9" fill="none"/>
<rect x="456.38" y="136.75" width="4.2" height="36.55" fill="#000"/>
<rect x="460.73" y="140.3" width="2.85" height="33" fill="#fff" stroke="#222" stroke-width="0.6"/>
<path d="M469.9 128 V122 M467.9 122 H471.9" stroke="#111" stroke-width="0.9" fill="none"/>
<rect x="467.8" y="128" width="4.2" height="45.3" fill="#000"/>
<rect x="472.15" y="134.55" width="2.85" height="38.75" fill="#fff" stroke="#222" stroke-width="0.6"/>
<path d="M481.32 127 V120.5 M479.32 120.5 H483.32" stroke="#111" stroke-width="0.9" fill="none"/>
<path d="M485.07 131.25 V127.5 M483.07 127.5 H487.07" stroke="#111" stroke-width="0.9" fill="none"/>
<rect x="479.22" y="127" width="4.2" height="46.3" fill="#000"/>
<rect x="483.57" y="131.55" width="2.85" height="41.75" fill="#fff" stroke="#222" stroke-width="0.6"/>
<path d="M492.74 129.5 V123.75 M490.74 123.75 H494.74" stroke="#111" stroke-width="0.9" fill="none"/>
<rect x="490.64" y="129.5" width="4.2" height="43.8" fill="#000"/>
<rect x="494.99" y="128.3" width="2.85" height="45" fill="#fff" stroke="#222" stroke-width="0.6"/>
<path d="M507.91 171.75 V170.25 M505.91 170.25 H509.91" stroke="#111" stroke-width="0.9" fill="none"/>
<rect x="502.06" y="172.5" width="4.2" height="0.8" fill="#000"/>
<rect x="506.41" y="172.05" width="2.85" height="1.25" fill="#fff" stroke="#222" stroke-width="0.6"/>
<line x1="294.1" y1="173.3" x2="511.48" y2="173.3" stroke="#000" stroke-width="1.1"/>
<line x1="294.5" y1="173.3" x2="294.5" y2="176" stroke="#333" stroke-width="0.8"/>
<line x1="305.92" y1="173.3" x2="305.92" y2="176" stroke="#333" stroke-width="0.8"/>
<line x1="317.34" y1="173.3" x2="317.34" y2="176" stroke="#333" stroke-width="0.8"/>
<line x1="328.76" y1="173.3" x2="328.76" y2="176" stroke="#333" stroke-width="0.8"/>
<line x1="340.18" y1="173.3" x2="340.18" y2="176" stroke="#333" stroke-width="0.8"/>
<line x1="351.6" y1="173.3" x2="351.6" y2="176" stroke="#333" stroke-width="0.8"/>
<line x1="363.02" y1="173.3" x2="363.02" y2="176" stroke="#333" stroke-width="0.8"/>
<line x1="374.44" y1="173.3" x2="374.44" y2="176" stroke="#333" stroke-width="0.8"/>
<line x1="385.86" y1="173.3" x2="385.86" y2="176" stroke="#333" stroke-width="0.8"/>
<line x1="397.28" y1="173.3" x2="397.28" y2="176" stroke="#333" stroke-width="0.8"/>
<line x1="408.7" y1="173.3" x2="408.7" y2="176" stroke="#333" stroke-width="0.8"/>
<line x1="420.12" y1="173.3" x2="420.12" y2="176" stroke="#333" stroke-width="0.8"/>
<line x1="431.54" y1="173.3" x2="431.54" y2="176" stroke="#333" stroke-width="0.8"/>
<line x1="442.96" y1="173.3" x2="442.96" y2="176" stroke="#333" stroke-width="0.8"/>
<line x1="454.38" y1="173.3" x2="454.38" y2="176" stroke="#333" stroke-width="0.8"/>
<line x1="465.8" y1="173.3" x2="465.8" y2="176" stroke="#333" stroke-width="0.8"/>
<line x1="477.22" y1="173.3" x2="477.22" y2="176" stroke="#333" stroke-width="0.8"/>
<line x1="488.64" y1="173.3" x2="488.64" y2="176" stroke="#333" stroke-width="0.8"/>
<line x1="500.06" y1="173.3" x2="500.06" y2="176" stroke="#333" stroke-width="0.8"/>
<line x1="511.48" y1="173.3" x2="511.48" y2="176" stroke="#333" stroke-width="0.8"/>
<text transform="translate(302.45 180.7) rotate(-90) scale(0.83 1)" font-size="9.84" text-anchor="end">1</text>
<text transform="translate(313.87 180.7) rotate(-90) scale(0.83 1)" font-size="9.84" text-anchor="end">2</text>
<text transform="translate(325.29 180.7) rotate(-90) scale(0.83 1)" font-size="9.84" text-anchor="end">3</text>
<text transform="translate(336.71 180.7) rotate(-90) scale(0.83 1)" font-size="9.84" text-anchor="end">MM.1S</text>
<text transform="translate(348.13 180.7) rotate(-90) scale(0.83 1)" font-size="9.84" text-anchor="end">4</text>
<text transform="translate(359.55 180.7) rotate(-90) scale(0.83 1)" font-size="9.84" text-anchor="end">U266</text>
<text transform="translate(370.97 180.7) rotate(-90) scale(0.83 1)" font-size="9.84" text-anchor="end">5</text>
<text transform="translate(382.39 180.7) rotate(-90) scale(0.83 1)" font-size="9.84" text-anchor="end">6</text>
<text transform="translate(393.81 180.7) rotate(-90) scale(0.83 1)" font-size="9.84" text-anchor="end">7</text>
<text transform="translate(405.23 180.7) rotate(-90) scale(0.83 1)" font-size="9.84" text-anchor="end">8</text>
<text transform="translate(416.65 180.7) rotate(-90) scale(0.83 1)" font-size="9.84" text-anchor="end">9</text>
<text transform="translate(428.07 180.7) rotate(-90) scale(0.83 1)" font-size="9.84" text-anchor="end">10</text>
<text transform="translate(439.49 180.7) rotate(-90) scale(0.83 1)" font-size="9.84" text-anchor="end">RPMI8226</text>
<text transform="translate(450.91 180.7) rotate(-90) scale(0.83 1)" font-size="9.84" text-anchor="end">11</text>
<text transform="translate(462.33 180.7) rotate(-90) scale(0.83 1)" font-size="9.84" text-anchor="end">12</text>
<text transform="translate(473.75 180.7) rotate(-90) scale(0.83 1)" font-size="9.84" text-anchor="end">13</text>
<text transform="translate(485.17 180.7) rotate(-90) scale(0.83 1)" font-size="9.84" text-anchor="end">14</text>
<text transform="translate(496.59 180.7) rotate(-90) scale(0.83 1)" font-size="9.84" text-anchor="end">15</text>
<text transform="translate(508.01 180.7) rotate(-90) scale(0.83 1)" font-size="9.84" text-anchor="end">NBM</text>
<text transform="translate(260 145.5) rotate(-90)" font-size="8" text-anchor="middle" textLength="48" lengthAdjust="spacingAndGlyphs">hsa-miR-222</text>
<text transform="translate(271 144.5) rotate(-90)" font-size="8" text-anchor="middle" textLength="59.4" lengthAdjust="spacingAndGlyphs">(fold of control)</text>
</g>
<g id="c5">
<line x1="42.7" y1="232.1" x2="42.7" y2="286.5" stroke="#555" stroke-width="0.9"/>
<line x1="39.7" y1="286.5" x2="42.7" y2="286.5" stroke="#666" stroke-width="0.8"/>
<text transform="translate(35.1 288.93) scale(1.1 1)" font-size="8" text-anchor="end">0</text>
<line x1="39.7" y1="272.9" x2="42.7" y2="272.9" stroke="#666" stroke-width="0.8"/>
<text transform="translate(35.1 275.33) scale(1.1 1)" font-size="8" text-anchor="end">20</text>
<line x1="39.7" y1="259.3" x2="42.7" y2="259.3" stroke="#666" stroke-width="0.8"/>
<text transform="translate(35.1 261.73) scale(1.1 1)" font-size="8" text-anchor="end">40</text>
<line x1="39.7" y1="245.7" x2="42.7" y2="245.7" stroke="#666" stroke-width="0.8"/>
<text transform="translate(35.1 248.13) scale(1.1 1)" font-size="8" text-anchor="end">60</text>
<line x1="39.7" y1="232.1" x2="42.7" y2="232.1" stroke="#666" stroke-width="0.8"/>
<text transform="translate(35.1 234.53) scale(1.1 1)" font-size="8" text-anchor="end">80</text>
<path d="M46.45 240.75 V235.75 M44.45 235.75 H48.45" stroke="#111" stroke-width="0.9" fill="none"/>
<path d="M49.75 243.25 V240.75 M47.75 240.75 H51.75" stroke="#111" stroke-width="0.9" fill="none"/>
<rect x="44.6" y="240.75" width="3.7" height="45.75" fill="#000"/>
<rect x="48.45" y="243.55" width="2.45" height="42.95" fill="#fff" stroke="#222" stroke-width="0.6"/>
<path d="M57.84 243 V239.5 M55.84 239.5 H59.84" stroke="#111" stroke-width="0.9" fill="none"/>
<rect x="55.99" y="243" width="3.7" height="43.5" fill="#000"/>
<rect x="59.84" y="242.05" width="2.45" height="44.45" fill="#fff" stroke="#222" stroke-width="0.6"/>
<path d="M69.23 246.75 V243.25 M67.23 243.25 H71.23" stroke="#111" stroke-width="0.9" fill="none"/>
<path d="M72.53 252.5 V249.5 M70.53 249.5 H74.53" stroke="#111" stroke-width="0.9" fill="none"/>
<rect x="67.38" y="246.75" width="3.7" height="39.75" fill="#000"/>
<rect x="71.23" y="252.8" width="2.45" height="33.7" fill="#fff" stroke="#222" stroke-width="0.6"/>
<path d="M80.62 261.25 V259.5 M78.62 259.5 H82.62" stroke="#111" stroke-width="0.9" fill="none"/>
<rect x="78.77" y="261.25" width="3.7" height="25.25" fill="#000"/>
<rect x="82.62" y="258.55" width="2.45" height="27.95" fill="#fff" stroke="#222" stroke-width="0.6"/>
<path d="M92.01 246.75 V243.25 M90.01 243.25 H94.01" stroke="#111" stroke-width="0.9" fill="none"/>
<rect x="90.16" y="246.75" width="3.7" height="39.75" fill="#000"/>
<rect x="94.01" y="245.8" width="2.45" height="40.7" fill="#fff" stroke="#222" stroke-width="0.6"/>
<path d="M103.4 253 V249.5 M101.4 249.5 H105.4" stroke="#111" stroke-width="0.9" fill="none"/>
<rect x="101.55" y="253" width="3.7" height="33.5" fill="#000"/>
<rect x="105.4" y="255.3" width="2.45" height="31.2" fill="#fff" stroke="#222" stroke-width="0.6"/>
<path d="M114.79 248.25 V245 M112.79 245 H116.79" stroke="#111" stroke-width="0.9" fill="none"/>
<rect x="112.94" y="248.25" width="3.7" height="38.25" fill="#000"/>
<rect x="116.79" y="258.3" width="2.45" height="28.2" fill="#fff" stroke="#222" stroke-width="0.6"/>
<path d="M126.18 257.5 V251.25 M124.18 251.25 H128.18" stroke="#111" stroke-width="0.9" fill="none"/>
<rect x="124.33" y="257.5" width="3.7" height="29" fill="#000"/>
<rect x="128.18" y="250.8" width="2.45" height="35.7" fill="#fff" stroke="#222" stroke-width="0.6"/>
<path d="M137.57 274.5 V268 M135.57 268 H139.57" stroke="#111" stroke-width="0.9" fill="none"/>
<path d="M140.87 275.5 V272.5 M138.87 272.5 H142.87" stroke="#111" stroke-width="0.9" fill="none"/>
<rect x="135.72" y="274.5" width="3.7" height="12" fill="#000"/>
<rect x="139.57" y="275.8" width="2.45" height="10.7" fill="#fff" stroke="#222" stroke-width="0.6"/>
<path d="M148.96 275.5 V270.75 M146.96 270.75 H150.96" stroke="#111" stroke-width="0.9" fill="none"/>
<rect x="147.11" y="275.5" width="3.7" height="11" fill="#000"/>
<rect x="150.96" y="274.8" width="2.45" height="11.7" fill="#fff" stroke="#222" stroke-width="0.6"/>
<path d="M160.35 244.5 V242 M158.35 242 H162.35" stroke="#111" stroke-width="0.9" fill="none"/>
<path d="M163.65 242.5 V240.75 M161.65 240.75 H165.65" stroke="#111" stroke-width="0.9" fill="none"/>
<rect x="158.5" y="244.5" width="3.7" height="42" fill="#000"/>
<rect x="162.35" y="242.8" width="2.45" height="43.7" fill="#fff" stroke="#222" stroke-width="0.6"/>
<path d="M171.74 245.5 V240 M169.74 240 H173.74" stroke="#111" stroke-width="0.9" fill="none"/>
<rect x="169.89" y="245.5" width="3.7" height="41" fill="#000"/>
<rect x="173.74" y="251.55" width="2.45" height="34.95" fill="#fff" stroke="#222" stroke-width="0.6"/>
<path d="M183.13 241.25 V237.5 M181.13 237.5 H185.13" stroke="#111" stroke-width="0.9" fill="none"/>
<path d="M186.43 243.25 V241.25 M184.43 241.25 H188.43" stroke="#111" stroke-width="0.9" fill="none"/>
<rect x="181.28" y="241.25" width="3.7" height="45.25" fill="#000"/>
<rect x="185.13" y="243.55" width="2.45" height="42.95" fill="#fff" stroke="#222" stroke-width="0.6"/>
<path d="M194.52 253.25 V252 M192.52 252 H196.52" stroke="#111" stroke-width="0.9" fill="none"/>
<rect x="192.67" y="253.25" width="3.7" height="33.25" fill="#000"/>
<rect x="196.52" y="252.3" width="2.45" height="34.2" fill="#fff" stroke="#222" stroke-width="0.6"/>
<path d="M205.91 258.75 V256.25 M203.91 256.25 H207.91" stroke="#111" stroke-width="0.9" fill="none"/>
<path d="M209.21 252.5 V249.5 M207.21 249.5 H211.21" stroke="#111" stroke-width="0.9" fill="none"/>
<rect x="204.06" y="258.75" width="3.7" height="27.75" fill="#000"/>
<rect x="207.91" y="252.8" width="2.45" height="33.7" fill="#fff" stroke="#222" stroke-width="0.6"/>
<path d="M217.3 250.5 V248.25 M215.3 248.25 H219.3" stroke="#111" stroke-width="0.9" fill="none"/>
<rect x="215.45" y="250.5" width="3.7" height="36" fill="#000"/>
<rect x="219.3" y="249.05" width="2.45" height="37.45" fill="#fff" stroke="#222" stroke-width="0.6"/>
<path d="M228.69 248 V246.75 M226.69 246.75 H230.69" stroke="#111" stroke-width="0.9" fill="none"/>
<rect x="226.84" y="248" width="3.7" height="38.5" fill="#000"/>
<rect x="230.69" y="249.05" width="2.45" height="37.45" fill="#fff" stroke="#222" stroke-width="0.6"/>
<path d="M240.08 251.25 V249.5 M238.08 249.5 H242.08" stroke="#111" stroke-width="0.9" fill="none"/>
<rect x="238.23" y="251.25" width="3.7" height="35.25" fill="#000"/>
<rect x="242.08" y="255.3" width="2.45" height="31.2" fill="#fff" stroke="#222" stroke-width="0.6"/>
<rect x="249.62" y="284.8" width="3.7" height="1.7" fill="#000"/>
<rect x="253.47" y="286" width="2.45" height="0.5" fill="#fff" stroke="#222" stroke-width="0.6"/>
<line x1="42.3" y1="286.5" x2="259.11" y2="286.5" stroke="#000" stroke-width="1.1"/>
<line x1="42.7" y1="286.5" x2="42.7" y2="289.2" stroke="#333" stroke-width="0.8"/>
<line x1="54.09" y1="286.5" x2="54.09" y2="289.2" stroke="#333" stroke-width="0.8"/>
<line x1="65.48" y1="286.5" x2="65.48" y2="289.2" stroke="#333" stroke-width="0.8"/>
<line x1="76.87" y1="286.5" x2="76.87" y2="289.2" stroke="#333" stroke-width="0.8"/>
<line x1="88.26" y1="286.5" x2="88.26" y2="289.2" stroke="#333" stroke-width="0.8"/>
<line x1="99.65" y1="286.5" x2="99.65" y2="289.2" stroke="#333" stroke-width="0.8"/>
<line x1="111.04" y1="286.5" x2="111.04" y2="289.2" stroke="#333" stroke-width="0.8"/>
<line x1="122.43" y1="286.5" x2="122.43" y2="289.2" stroke="#333" stroke-width="0.8"/>
<line x1="133.82" y1="286.5" x2="133.82" y2="289.2" stroke="#333" stroke-width="0.8"/>
<line x1="145.21" y1="286.5" x2="145.21" y2="289.2" stroke="#333" stroke-width="0.8"/>
<line x1="156.6" y1="286.5" x2="156.6" y2="289.2" stroke="#333" stroke-width="0.8"/>
<line x1="167.99" y1="286.5" x2="167.99" y2="289.2" stroke="#333" stroke-width="0.8"/>
<line x1="179.38" y1="286.5" x2="179.38" y2="289.2" stroke="#333" stroke-width="0.8"/>
<line x1="190.77" y1="286.5" x2="190.77" y2="289.2" stroke="#333" stroke-width="0.8"/>
<line x1="202.16" y1="286.5" x2="202.16" y2="289.2" stroke="#333" stroke-width="0.8"/>
<line x1="213.55" y1="286.5" x2="213.55" y2="289.2" stroke="#333" stroke-width="0.8"/>
<line x1="224.94" y1="286.5" x2="224.94" y2="289.2" stroke="#333" stroke-width="0.8"/>
<line x1="236.33" y1="286.5" x2="236.33" y2="289.2" stroke="#333" stroke-width="0.8"/>
<line x1="247.72" y1="286.5" x2="247.72" y2="289.2" stroke="#333" stroke-width="0.8"/>
<line x1="259.11" y1="286.5" x2="259.11" y2="289.2" stroke="#333" stroke-width="0.8"/>
<text transform="translate(50.34 293.45) rotate(-90) scale(0.83 1)" font-size="9.84" text-anchor="end">1</text>
<text transform="translate(61.73 293.45) rotate(-90) scale(0.83 1)" font-size="9.84" text-anchor="end">2</text>
<text transform="translate(73.12 293.45) rotate(-90) scale(0.83 1)" font-size="9.84" text-anchor="end">3</text>
<text transform="translate(84.51 293.45) rotate(-90) scale(0.83 1)" font-size="9.84" text-anchor="end">MM.1S</text>
<text transform="translate(95.9 293.45) rotate(-90) scale(0.83 1)" font-size="9.84" text-anchor="end">4</text>
<text transform="translate(107.29 293.45) rotate(-90) scale(0.83 1)" font-size="9.84" text-anchor="end">U266</text>
<text transform="translate(118.68 293.45) rotate(-90) scale(0.83 1)" font-size="9.84" text-anchor="end">5</text>
<text transform="translate(130.07 293.45) rotate(-90) scale(0.83 1)" font-size="9.84" text-anchor="end">6</text>
<text transform="translate(141.46 293.45) rotate(-90) scale(0.83 1)" font-size="9.84" text-anchor="end">7</text>
<text transform="translate(152.85 293.45) rotate(-90) scale(0.83 1)" font-size="9.84" text-anchor="end">8</text>
<text transform="translate(164.24 293.45) rotate(-90) scale(0.83 1)" font-size="9.84" text-anchor="end">9</text>
<text transform="translate(175.63 293.45) rotate(-90) scale(0.83 1)" font-size="9.84" text-anchor="end">10</text>
<text transform="translate(187.02 293.45) rotate(-90) scale(0.83 1)" font-size="9.84" text-anchor="end">RPMI8226</text>
<text transform="translate(198.41 293.45) rotate(-90) scale(0.83 1)" font-size="9.84" text-anchor="end">11</text>
<text transform="translate(209.8 293.45) rotate(-90) scale(0.83 1)" font-size="9.84" text-anchor="end">12</text>
<text transform="translate(221.19 293.45) rotate(-90) scale(0.83 1)" font-size="9.84" text-anchor="end">13</text>
<text transform="translate(232.58 293.45) rotate(-90) scale(0.83 1)" font-size="9.84" text-anchor="end">14</text>
<text transform="translate(243.97 293.45) rotate(-90) scale(0.83 1)" font-size="9.84" text-anchor="end">15</text>
<text transform="translate(255.36 293.45) rotate(-90) scale(0.83 1)" font-size="9.84" text-anchor="end">NBM</text>
<text transform="translate(7.8 259.3) rotate(-90)" font-size="8.2" text-anchor="middle" textLength="47.2" lengthAdjust="spacingAndGlyphs">hsa-miR-221</text>
<text transform="translate(19.1 258.7) rotate(-90)" font-size="8.2" text-anchor="middle" textLength="75.2" lengthAdjust="spacingAndGlyphs">(fold of expression)</text>
</g>
<g id="c6">
<line x1="307.35" y1="231.8" x2="307.35" y2="285.3" stroke="#555" stroke-width="0.9"/>
<line x1="304.35" y1="285.3" x2="307.35" y2="285.3" stroke="#666" stroke-width="0.8"/>
<text transform="translate(300.15 287.73) scale(0.95 1)" font-size="8" text-anchor="end">0</text>
<line x1="304.35" y1="276.4" x2="307.35" y2="276.4" stroke="#666" stroke-width="0.8"/>
<text transform="translate(300.15 278.83) scale(0.95 1)" font-size="8" text-anchor="end">0.2</text>
<line x1="304.35" y1="267.5" x2="307.35" y2="267.5" stroke="#666" stroke-width="0.8"/>
<text transform="translate(300.15 269.93) scale(0.95 1)" font-size="8" text-anchor="end">0.4</text>
<line x1="304.35" y1="258.6" x2="307.35" y2="258.6" stroke="#666" stroke-width="0.8"/>
<text transform="translate(300.15 261.03) scale(0.95 1)" font-size="8" text-anchor="end">0.6</text>
<line x1="304.35" y1="249.7" x2="307.35" y2="249.7" stroke="#666" stroke-width="0.8"/>
<text transform="translate(300.15 252.13) scale(0.95 1)" font-size="8" text-anchor="end">0.8</text>
<line x1="304.35" y1="240.8" x2="307.35" y2="240.8" stroke="#666" stroke-width="0.8"/>
<text transform="translate(300.15 243.23) scale(0.95 1)" font-size="8" text-anchor="end">1</text>
<line x1="304.35" y1="231.9" x2="307.35" y2="231.9" stroke="#666" stroke-width="0.8"/>
<text transform="translate(300.15 234.33) scale(0.95 1)" font-size="8" text-anchor="end">1.2</text>
<path d="M314.95 283.3 V282.6 M312.95 282.6 H316.95" stroke="#111" stroke-width="0.9" fill="none"/>
<rect x="309.45" y="283.9" width="3.8" height="1.4" fill="#000"/>
<rect x="313.4" y="283.6" width="2.95" height="1.7" fill="#fff" stroke="#222" stroke-width="0.6"/>
<rect x="320.62" y="284.6" width="3.8" height="0.7" fill="#000"/>
<rect x="324.57" y="285.4" width="2.95" height="-0.1" fill="#fff" stroke="#222" stroke-width="0.6"/>
<rect x="331.79" y="284.9" width="3.8" height="0.4" fill="#000"/>
<rect x="335.74" y="285.4" width="2.95" height="-0.1" fill="#fff" stroke="#222" stroke-width="0.6"/>
<path d="M344.86 282.4 V280.1 M342.86 280.1 H346.86" stroke="#111" stroke-width="0.9" fill="none"/>
<rect x="342.96" y="282.4" width="3.8" height="2.9" fill="#000"/>
<rect x="346.91" y="283.3" width="2.95" height="2" fill="#fff" stroke="#222" stroke-width="0.6"/>
<path d="M356.03 285 V283 M354.03 283 H358.03" stroke="#111" stroke-width="0.9" fill="none"/>
<rect x="354.13" y="285" width="3.8" height="0.3" fill="#000"/>
<path d="M367.2 280.1 V277 M365.2 277 H369.2" stroke="#111" stroke-width="0.9" fill="none"/>
<rect x="365.3" y="280.1" width="3.8" height="5.2" fill="#000"/>
<rect x="369.25" y="280.4" width="2.95" height="4.9" fill="#fff" stroke="#222" stroke-width="0.6"/>
<path d="M378.37 284.5 V281.8 M376.37 281.8 H380.37" stroke="#111" stroke-width="0.9" fill="none"/>
<rect x="376.47" y="284.5" width="3.8" height="0.8" fill="#000"/>
<rect x="380.42" y="285.3" width="2.95" height="0" fill="#fff" stroke="#222" stroke-width="0.6"/>
<rect x="387.64" y="282.6" width="3.8" height="2.7" fill="#000"/>
<rect x="391.59" y="284.3" width="2.95" height="1" fill="#fff" stroke="#222" stroke-width="0.6"/>
<path d="M400.71 282.6 V278.9 M398.71 278.9 H402.71" stroke="#111" stroke-width="0.9" fill="none"/>
<rect x="398.81" y="282.6" width="3.8" height="2.7" fill="#000"/>
<rect x="402.76" y="283.9" width="2.95" height="1.4" fill="#fff" stroke="#222" stroke-width="0.6"/>
<rect x="409.98" y="282.6" width="3.8" height="2.7" fill="#000"/>
<rect x="413.93" y="284.3" width="2.95" height="1" fill="#fff" stroke="#222" stroke-width="0.6"/>
<path d="M426.65 283.5 V277.6 M424.65 277.6 H428.65" stroke="#111" stroke-width="0.9" fill="none"/>
<rect x="421.15" y="282.3" width="3.8" height="3" fill="#000"/>
<rect x="425.1" y="283.8" width="2.95" height="1.5" fill="#fff" stroke="#222" stroke-width="0.6"/>
<path d="M434.22 285.1 V282.3 M432.22 282.3 H436.22" stroke="#111" stroke-width="0.9" fill="none"/>
<rect x="432.32" y="285.1" width="3.8" height="0.2" fill="#000"/>
<path d="M445.39 278 V275.1 M443.39 275.1 H447.39" stroke="#111" stroke-width="0.9" fill="none"/>
<rect x="443.49" y="278" width="3.8" height="7.3" fill="#000"/>
<rect x="447.44" y="278.6" width="2.95" height="6.7" fill="#fff" stroke="#222" stroke-width="0.6"/>
<path d="M456.56 285.1 V283 M454.56 283 H458.56" stroke="#111" stroke-width="0.9" fill="none"/>
<rect x="454.66" y="285.1" width="3.8" height="0.2" fill="#000"/>
<path d="M471.33 284.6 V283 M469.33 283 H473.33" stroke="#111" stroke-width="0.9" fill="none"/>
<rect x="465.83" y="285.1" width="3.8" height="0.2" fill="#000"/>
<rect x="469.78" y="284.9" width="2.95" height="0.4" fill="#fff" stroke="#222" stroke-width="0.6"/>
<path d="M478.9 285.1 V282.8 M476.9 282.8 H480.9" stroke="#111" stroke-width="0.9" fill="none"/>
<rect x="477" y="285.1" width="3.8" height="0.2" fill="#000"/>
<path d="M490.07 285.1 V281.8 M488.07 281.8 H492.07" stroke="#111" stroke-width="0.9" fill="none"/>
<rect x="488.17" y="285.1" width="3.8" height="0.2" fill="#000"/>
<rect x="492.12" y="285.1" width="2.95" height="0.2" fill="#fff" stroke="#222" stroke-width="0.6"/>
<rect x="499.34" y="284.3" width="3.8" height="1" fill="#000"/>
<rect x="503.29" y="285.4" width="2.95" height="-0.1" fill="#fff" stroke="#222" stroke-width="0.6"/>
<rect x="510.51" y="240.3" width="3.8" height="45" fill="#000"/>
<rect x="514.46" y="240.6" width="2.95" height="44.7" fill="#fff" stroke="#222" stroke-width="0.6"/>
<line x1="306.95" y1="285.3" x2="519.58" y2="285.3" stroke="#000" stroke-width="1.1"/>
<line x1="307.35" y1="285.3" x2="307.35" y2="288" stroke="#333" stroke-width="0.8"/>
<line x1="318.52" y1="285.3" x2="318.52" y2="288" stroke="#333" stroke-width="0.8"/>
<line x1="329.69" y1="285.3" x2="329.69" y2="288" stroke="#333" stroke-width="0.8"/>
<line x1="340.86" y1="285.3" x2="340.86" y2="288" stroke="#333" stroke-width="0.8"/>
<line x1="352.03" y1="285.3" x2="352.03" y2="288" stroke="#333" stroke-width="0.8"/>
<line x1="363.2" y1="285.3" x2="363.2" y2="288" stroke="#333" stroke-width="0.8"/>
<line x1="374.37" y1="285.3" x2="374.37" y2="288" stroke="#333" stroke-width="0.8"/>
<line x1="385.54" y1="285.3" x2="385.54" y2="288" stroke="#333" stroke-width="0.8"/>
<line x1="396.71" y1="285.3" x2="396.71" y2="288" stroke="#333" stroke-width="0.8"/>
<line x1="407.88" y1="285.3" x2="407.88" y2="288" stroke="#333" stroke-width="0.8"/>
<line x1="419.05" y1="285.3" x2="419.05" y2="288" stroke="#333" stroke-width="0.8"/>
<line x1="430.22" y1="285.3" x2="430.22" y2="288" stroke="#333" stroke-width="0.8"/>
<line x1="441.39" y1="285.3" x2="441.39" y2="288" stroke="#333" stroke-width="0.8"/>
<line x1="452.56" y1="285.3" x2="452.56" y2="288" stroke="#333" stroke-width="0.8"/>
<line x1="463.73" y1="285.3" x2="463.73" y2="288" stroke="#333" stroke-width="0.8"/>
<line x1="474.9" y1="285.3" x2="474.9" y2="288" stroke="#333" stroke-width="0.8"/>
<line x1="486.07" y1="285.3" x2="486.07" y2="288" stroke="#333" stroke-width="0.8"/>
<line x1="497.24" y1="285.3" x2="497.24" y2="288" stroke="#333" stroke-width="0.8"/>
<line x1="508.41" y1="285.3" x2="508.41" y2="288" stroke="#333" stroke-width="0.8"/>
<line x1="519.58" y1="285.3" x2="519.58" y2="288" stroke="#333" stroke-width="0.8"/>
<text transform="translate(315.14 292.4) rotate(-90) scale(0.89 1)" font-size="9.18" text-anchor="end">1</text>
<text transform="translate(326.31 292.4) rotate(-90) scale(0.89 1)" font-size="9.18" text-anchor="end">2</text>
<text transform="translate(337.48 292.4) rotate(-90) scale(0.89 1)" font-size="9.18" text-anchor="end">3</text>
<text transform="translate(348.65 292.4) rotate(-90) scale(0.89 1)" font-size="9.18" text-anchor="end">MM.1S</text>
<text transform="translate(359.82 292.4) rotate(-90) scale(0.89 1)" font-size="9.18" text-anchor="end">4</text>
<text transform="translate(370.99 292.4) rotate(-90) scale(0.89 1)" font-size="9.18" text-anchor="end">U266</text>
<text transform="translate(382.16 292.4) rotate(-90) scale(0.89 1)" font-size="9.18" text-anchor="end">5</text>
<text transform="translate(393.33 292.4) rotate(-90) scale(0.89 1)" font-size="9.18" text-anchor="end">6</text>
<text transform="translate(404.5 292.4) rotate(-90) scale(0.89 1)" font-size="9.18" text-anchor="end">7</text>
<text transform="translate(415.67 292.4) rotate(-90) scale(0.89 1)" font-size="9.18" text-anchor="end">8</text>
<text transform="translate(426.84 292.4) rotate(-90) scale(0.89 1)" font-size="9.18" text-anchor="end">9</text>
<text transform="translate(438.01 292.4) rotate(-90) scale(0.89 1)" font-size="9.18" text-anchor="end">10</text>
<text transform="translate(449.18 292.4) rotate(-90) scale(0.89 1)" font-size="9.18" text-anchor="end">RPMI8226</text>
<text transform="translate(460.35 292.4) rotate(-90) scale(0.89 1)" font-size="9.18" text-anchor="end">11</text>
<text transform="translate(471.52 292.4) rotate(-90) scale(0.89 1)" font-size="9.18" text-anchor="end">12</text>
<text transform="translate(482.69 292.4) rotate(-90) scale(0.89 1)" font-size="9.18" text-anchor="end">13</text>
<text transform="translate(493.86 292.4) rotate(-90) scale(0.89 1)" font-size="9.18" text-anchor="end">14</text>
<text transform="translate(505.03 292.4) rotate(-90) scale(0.89 1)" font-size="9.18" text-anchor="end">15</text>
<text transform="translate(516.2 292.4) rotate(-90) scale(0.89 1)" font-size="9.18" text-anchor="end">NBM</text>
<text transform="translate(271.3 261.9) rotate(-90)" font-size="8.2" text-anchor="middle" textLength="42.2" lengthAdjust="spacingAndGlyphs">hsa-miR-16</text>
<text transform="translate(282.6 257.5) rotate(-90)" font-size="8.2" text-anchor="middle" textLength="60" lengthAdjust="spacingAndGlyphs">(fold of control)</text>
</g>
<g id="c7">
<line x1="50.7" y1="344.5" x2="50.7" y2="397.5" stroke="#555" stroke-width="0.9"/>
<line x1="47.7" y1="397.5" x2="50.7" y2="397.5" stroke="#666" stroke-width="0.8"/>
<text transform="translate(44.2 399.93) scale(0.98 1)" font-size="8" text-anchor="end">0</text>
<line x1="47.7" y1="388.7" x2="50.7" y2="388.7" stroke="#666" stroke-width="0.8"/>
<text transform="translate(44.2 391.13) scale(0.98 1)" font-size="8" text-anchor="end">0.2</text>
<line x1="47.7" y1="379.9" x2="50.7" y2="379.9" stroke="#666" stroke-width="0.8"/>
<text transform="translate(44.2 382.33) scale(0.98 1)" font-size="8" text-anchor="end">0.4</text>
<line x1="47.7" y1="371.1" x2="50.7" y2="371.1" stroke="#666" stroke-width="0.8"/>
<text transform="translate(44.2 373.53) scale(0.98 1)" font-size="8" text-anchor="end">0.6</text>
<line x1="47.7" y1="362.3" x2="50.7" y2="362.3" stroke="#666" stroke-width="0.8"/>
<text transform="translate(44.2 364.73) scale(0.98 1)" font-size="8" text-anchor="end">0.8</text>
<line x1="47.7" y1="353.5" x2="50.7" y2="353.5" stroke="#666" stroke-width="0.8"/>
<text transform="translate(44.2 355.93) scale(0.98 1)" font-size="8" text-anchor="end">1</text>
<line x1="47.7" y1="344.7" x2="50.7" y2="344.7" stroke="#666" stroke-width="0.8"/>
<text transform="translate(44.2 347.13) scale(0.98 1)" font-size="8" text-anchor="end">1.2</text>
<rect x="52.5" y="396.25" width="4" height="1.25" fill="#000"/>
<rect x="56.65" y="396.05" width="2.75" height="1.45" fill="#fff" stroke="#222" stroke-width="0.6"/>
<rect x="63.61" y="397" width="4" height="0.5" fill="#000"/>
<rect x="67.76" y="397.3" width="2.75" height="0.2" fill="#fff" stroke="#222" stroke-width="0.6"/>
<path d="M76.72 384.5 V382 M74.72 382 H78.72" stroke="#111" stroke-width="0.9" fill="none"/>
<rect x="74.72" y="384.5" width="4" height="13" fill="#000"/>
<rect x="78.87" y="387.8" width="2.75" height="9.7" fill="#fff" stroke="#222" stroke-width="0.6"/>
<path d="M87.83 393 V390.5 M85.83 390.5 H89.83" stroke="#111" stroke-width="0.9" fill="none"/>
<rect x="85.83" y="393" width="4" height="4.5" fill="#000"/>
<rect x="89.98" y="394.55" width="2.75" height="2.95" fill="#fff" stroke="#222" stroke-width="0.6"/>
<rect x="96.94" y="396.75" width="4" height="0.75" fill="#000"/>
<rect x="101.09" y="396.8" width="2.75" height="0.7" fill="#fff" stroke="#222" stroke-width="0.6"/>
<rect x="108.05" y="386.25" width="4" height="11.25" fill="#000"/>
<rect x="112.2" y="386.55" width="2.75" height="10.95" fill="#fff" stroke="#222" stroke-width="0.6"/>
<rect x="119.16" y="397" width="4" height="0.5" fill="#000"/>
<rect x="123.31" y="397.3" width="2.75" height="0.2" fill="#fff" stroke="#222" stroke-width="0.6"/>
<path d="M132.27 397.2 V395.1 M130.27 395.1 H134.27" stroke="#111" stroke-width="0.9" fill="none"/>
<rect x="130.27" y="397.2" width="4" height="0.3" fill="#000"/>
<rect x="134.42" y="397.6" width="2.75" height="-0.1" fill="#fff" stroke="#222" stroke-width="0.6"/>
<rect x="141.38" y="386.75" width="4" height="10.75" fill="#000"/>
<rect x="145.53" y="387.6" width="2.75" height="9.9" fill="#fff" stroke="#222" stroke-width="0.6"/>
<path d="M154.49 386.75 V382 M152.49 382 H156.49" stroke="#111" stroke-width="0.9" fill="none"/>
<rect x="152.49" y="386.75" width="4" height="10.75" fill="#000"/>
<rect x="156.64" y="386.55" width="2.75" height="10.95" fill="#fff" stroke="#222" stroke-width="0.6"/>
<rect x="163.6" y="391.25" width="4" height="6.25" fill="#000"/>
<rect x="167.75" y="390.3" width="2.75" height="7.2" fill="#fff" stroke="#222" stroke-width="0.6"/>
<rect x="174.71" y="395.9" width="4" height="1.6" fill="#000"/>
<rect x="178.86" y="397.5" width="2.75" height="0" fill="#fff" stroke="#222" stroke-width="0.6"/>
<rect x="185.82" y="390.5" width="4" height="7" fill="#000"/>
<rect x="189.97" y="391.3" width="2.75" height="6.2" fill="#fff" stroke="#222" stroke-width="0.6"/>
<rect x="196.93" y="396.75" width="4" height="0.75" fill="#000"/>
<rect x="201.08" y="397.2" width="2.75" height="0.3" fill="#fff" stroke="#222" stroke-width="0.6"/>
<rect x="208.04" y="396.75" width="4" height="0.75" fill="#000"/>
<rect x="212.19" y="397.2" width="2.75" height="0.3" fill="#fff" stroke="#222" stroke-width="0.6"/>
<rect x="219.15" y="397.3" width="4" height="0.2" fill="#000"/>
<rect x="223.3" y="397.6" width="2.75" height="-0.1" fill="#fff" stroke="#222" stroke-width="0.6"/>
<rect x="230.26" y="396.75" width="4" height="0.75" fill="#000"/>
<rect x="234.41" y="397.2" width="2.75" height="0.3" fill="#fff" stroke="#222" stroke-width="0.6"/>
<rect x="241.37" y="397" width="4" height="0.5" fill="#000"/>
<rect x="245.52" y="397.4" width="2.75" height="0.1" fill="#fff" stroke="#222" stroke-width="0.6"/>
<rect x="252.48" y="352.4" width="4" height="45.1" fill="#000"/>
<rect x="256.63" y="352.7" width="2.75" height="44.8" fill="#fff" stroke="#222" stroke-width="0.6"/>
<line x1="50.3" y1="397.5" x2="261.79" y2="397.5" stroke="#000" stroke-width="1.1"/>
<line x1="50.7" y1="397.5" x2="50.7" y2="400.2" stroke="#333" stroke-width="0.8"/>
<line x1="61.81" y1="397.5" x2="61.81" y2="400.2" stroke="#333" stroke-width="0.8"/>
<line x1="72.92" y1="397.5" x2="72.92" y2="400.2" stroke="#333" stroke-width="0.8"/>
<line x1="84.03" y1="397.5" x2="84.03" y2="400.2" stroke="#333" stroke-width="0.8"/>
<line x1="95.14" y1="397.5" x2="95.14" y2="400.2" stroke="#333" stroke-width="0.8"/>
<line x1="106.25" y1="397.5" x2="106.25" y2="400.2" stroke="#333" stroke-width="0.8"/>
<line x1="117.36" y1="397.5" x2="117.36" y2="400.2" stroke="#333" stroke-width="0.8"/>
<line x1="128.47" y1="397.5" x2="128.47" y2="400.2" stroke="#333" stroke-width="0.8"/>
<line x1="139.58" y1="397.5" x2="139.58" y2="400.2" stroke="#333" stroke-width="0.8"/>
<line x1="150.69" y1="397.5" x2="150.69" y2="400.2" stroke="#333" stroke-width="0.8"/>
<line x1="161.8" y1="397.5" x2="161.8" y2="400.2" stroke="#333" stroke-width="0.8"/>
<line x1="172.91" y1="397.5" x2="172.91" y2="400.2" stroke="#333" stroke-width="0.8"/>
<line x1="184.02" y1="397.5" x2="184.02" y2="400.2" stroke="#333" stroke-width="0.8"/>
<line x1="195.13" y1="397.5" x2="195.13" y2="400.2" stroke="#333" stroke-width="0.8"/>
<line x1="206.24" y1="397.5" x2="206.24" y2="400.2" stroke="#333" stroke-width="0.8"/>
<line x1="217.35" y1="397.5" x2="217.35" y2="400.2" stroke="#333" stroke-width="0.8"/>
<line x1="228.46" y1="397.5" x2="228.46" y2="400.2" stroke="#333" stroke-width="0.8"/>
<line x1="239.57" y1="397.5" x2="239.57" y2="400.2" stroke="#333" stroke-width="0.8"/>
<line x1="250.68" y1="397.5" x2="250.68" y2="400.2" stroke="#333" stroke-width="0.8"/>
<line x1="261.79" y1="397.5" x2="261.79" y2="400.2" stroke="#333" stroke-width="0.8"/>
<text transform="translate(58.5 404.9) rotate(-90) scale(0.89 1)" font-size="9.3" text-anchor="end">1</text>
<text transform="translate(69.61 404.9) rotate(-90) scale(0.89 1)" font-size="9.3" text-anchor="end">2</text>
<text transform="translate(80.72 404.9) rotate(-90) scale(0.89 1)" font-size="9.3" text-anchor="end">3</text>
<text transform="translate(91.83 404.9) rotate(-90) scale(0.89 1)" font-size="9.3" text-anchor="end">MM.1S</text>
<text transform="translate(102.94 404.9) rotate(-90) scale(0.89 1)" font-size="9.3" text-anchor="end">4</text>
<text transform="translate(114.05 404.9) rotate(-90) scale(0.89 1)" font-size="9.3" text-anchor="end">U266</text>
<text transform="translate(125.16 404.9) rotate(-90) scale(0.89 1)" font-size="9.3" text-anchor="end">5</text>
<text transform="translate(136.27 404.9) rotate(-90) scale(0.89 1)" font-size="9.3" text-anchor="end">6</text>
<text transform="translate(147.38 404.9) rotate(-90) scale(0.89 1)" font-size="9.3" text-anchor="end">7</text>
<text transform="translate(158.49 404.9) rotate(-90) scale(0.89 1)" font-size="9.3" text-anchor="end">8</text>
<text transform="translate(169.6 404.9) rotate(-90) scale(0.89 1)" font-size="9.3" text-anchor="end">9</text>
<text transform="translate(180.71 404.9) rotate(-90) scale(0.89 1)" font-size="9.3" text-anchor="end">10</text>
<text transform="translate(191.82 404.9) rotate(-90) scale(0.89 1)" font-size="9.3" text-anchor="end">RPMI8226</text>
<text transform="translate(202.93 404.9) rotate(-90) scale(0.89 1)" font-size="9.3" text-anchor="end">11</text>
<text transform="translate(214.04 404.9) rotate(-90) scale(0.89 1)" font-size="9.3" text-anchor="end">12</text>
<text transform="translate(225.15 404.9) rotate(-90) scale(0.89 1)" font-size="9.3" text-anchor="end">13</text>
<text transform="translate(236.26 404.9) rotate(-90) scale(0.89 1)" font-size="9.3" text-anchor="end">14</text>
<text transform="translate(247.37 404.9) rotate(-90) scale(0.89 1)" font-size="9.3" text-anchor="end">15</text>
<text transform="translate(258.48 404.9) rotate(-90) scale(0.89 1)" font-size="9.3" text-anchor="end">NBM</text>
<text transform="translate(14.7 370.6) rotate(-90)" font-size="8.2" text-anchor="middle" textLength="47.2" lengthAdjust="spacingAndGlyphs">hsa-miR-15a</text>
<text transform="translate(26.3 369.7) rotate(-90)" font-size="8.2" text-anchor="middle" textLength="59" lengthAdjust="spacingAndGlyphs">(fold of control)</text>
</g>
<g id="legend">
<rect x="340.1" y="401.2" width="158.6" height="40.2" fill="#fff" stroke="#5a5a5a" stroke-width="1.6"/>
<rect x="346.6" y="408.5" width="11.6" height="11.2" fill="#fff" stroke="#444" stroke-width="0.8"/>
<rect x="346.2" y="424.2" width="12.3" height="11.8" fill="#000"/>
<text x="364" y="418.3" font-size="10.2" textLength="42.3" lengthAdjust="spacingAndGlyphs">qRT-PCR</text>
<text x="364.3" y="434" font-size="10.2" textLength="130.8" lengthAdjust="spacingAndGlyphs">Microbeads miRNA profiling</text>
</g>
</svg>
</body></html>
